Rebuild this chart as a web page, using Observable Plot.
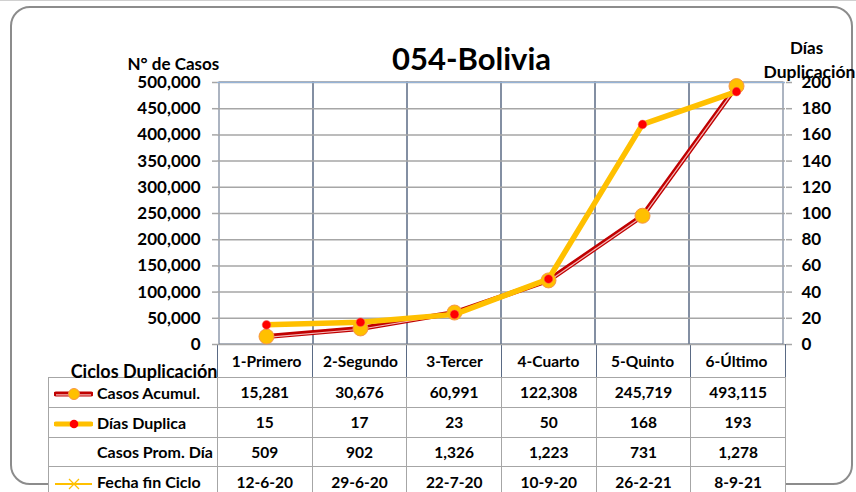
<!DOCTYPE html>
<html>
<head>
<meta charset="utf-8">
<script src="https://cdn.jsdelivr.net/npm/d3@7"></script>
<script src="https://cdn.jsdelivr.net/npm/@observablehq/plot@0.6"></script>
<style>
html,body{margin:0;padding:0;background:#fff;}
#wrap{position:relative;width:856px;height:492px;overflow:hidden;font-family:Lato,"Open Sans",sans-serif;font-weight:bold;color:#000;}
#topline{position:absolute;left:0;top:0;width:856px;height:1px;background:#d0d0d0;}
#frame{position:absolute;left:10px;top:6px;width:843px;height:479px;border:2.5px solid #8c8c8c;border-radius:20px;box-sizing:border-box;}
#tbl{position:absolute;left:48px;top:344px;border-collapse:collapse;table-layout:fixed;background:#fff;font-size:15.5px;font-weight:bold;}
#tbl td{border:1px solid #a6a6a6;padding:0;text-align:center;white-space:nowrap;overflow:hidden;}
#tbl tr.hd td{border-top:none;border-left:1px solid #5a6a84;border-right:1px solid #5a6a84;}
#tbl tr.hd td.blank{border-top:none;border-left:none;}
#tbl td.lab{text-align:left;padding-left:5px;font-size:16px;}
#tbl td.lab svg{vertical-align:middle;margin-right:4px;}
#tbl td.lab.nokey{padding-left:48px;}
#chart{position:absolute;left:0;top:0;}
</style>
</head>
<body>
<div id="wrap">
  <div id="topline"></div>
  <div id="frame"></div>
  <table id="tbl"></table>
  <div id="chart"></div>
</div>
<script>
// ---- data ----
const categories = ["1-Primero", "2-Segundo", "3-Tercer", "4-Cuarto", "5-Quinto", "6-Último"];
const casosAcumul = [15281, 30676, 60991, 122308, 245719, 493115];
const diasDuplica = [15, 17, 23, 50, 168, 193];
const casosPromDia = [509, 902, 1326, 1223, 731, 1278];
const fechaFinCiclo = ["12-6-20", "29-6-20", "22-7-20", "10-9-20", "26-2-21", "8-9-21"];
const casosTicks = [0, 50000, 100000, 150000, 200000, 250000, 300000, 350000, 400000, 450000, 500000];
const diasTicks = [0, 20, 40, 60, 80, 100, 120, 140, 160, 180, 200];
const chartTitle = ["054-Bolivia"];
const leftAxisTitle = ["N° de Casos"];
const rightAxisTitle1 = ["Días"];
const rightAxisTitle2 = ["Duplicación"];
const tableTitle = ["Ciclos Duplicación"];
const rowLabels = ["Casos Acumul.", "Días Duplica", "Casos Prom. Día", "Fecha fin Ciclo"];

const casosMax = 500000, diasMax = 200;
const K = casosMax / diasMax; // right axis mapped onto left scale

const rows = categories.map((c, i) => ({cat: c, casos: casosAcumul[i], dias: diasDuplica[i]}));
const fmt = d3.format(",");

const txt = {fontWeight: "bold", fill: "#000"};

const chart = Plot.plot({
  width: 856,
  height: 377,
  marginTop: 82,
  marginBottom: 33,
  marginLeft: 217,
  marginRight: 71,
  style: {background: "transparent", fontFamily: "Lato, 'Open Sans', sans-serif", fontSize: "17px", fontWeight: "bold", color: "#000", overflow: "visible"},
  x: {type: "band", domain: categories, padding: 0},
  y: {domain: [0, casosMax]},
  marks: [
    Plot.barY(categories, {x: d => d, y: () => casosMax, fill: "none", stroke: "#5a6a84", strokeWidth: 1}),
    Plot.gridY(casosTicks, {stroke: "#a6a6a6", strokeOpacity: 1, strokeWidth: 1.5}),
    Plot.ruleY([casosMax], {stroke: "#95b3d7", strokeWidth: 1.2}),
    Plot.axisY(casosTicks, {anchor: "left", tickSize: 5, tickPadding: 12, tickFormat: fmt, stroke: "#a6a6a6", strokeWidth: 1.5, fontSize: 17, label: null, ...txt}),
    Plot.axisY(diasTicks.map(v => v * K), {anchor: "right", tickSize: 6, tickPadding: 10, tickFormat: v => String(v / K), stroke: "#a6a6a6", strokeWidth: 1.5, fontSize: 17, label: null, ...txt}),
    Plot.axisX(categories, {anchor: "bottom", tickSize: 0, tickPadding: 11, fontSize: 15.5, label: null, ...txt}),
    // Casos Acumul. (left axis)
    Plot.line(rows, {x: "cat", y: "casos", stroke: "#c00000", strokeWidth: 5}),
    Plot.line(rows, {x: "cat", y: "casos", stroke: "#f4b6b6", strokeWidth: 1.2, dy: 0.8}),
    Plot.dot(rows, {x: "cat", y: "casos", r: 7.5, fill: "#ffc000", stroke: "#f79646", strokeWidth: 1}),
    // Días Duplica (right axis)
    Plot.line(rows, {x: "cat", y: d => d.dias * K, stroke: "#ffc000", strokeWidth: 5.5}),
    Plot.dot(rows, {x: "cat", y: d => d.dias * K, r: 4.3, fill: "#ff0000", stroke: "#f06060", strokeWidth: 0.5}),
    // titles
    Plot.text(chartTitle, {text: d => d, frameAnchor: "top-left", dx: 254, dy: -22, fontSize: 31, textAnchor: "middle", lineAnchor: "middle", ...txt}),
    Plot.text(leftAxisTitle, {text: d => d, frameAnchor: "top-left", dx: -90, dy: -17.5, fontSize: 17, textAnchor: "start", lineAnchor: "middle", ...txt}),
    Plot.text(rightAxisTitle1, {text: d => d, frameAnchor: "top-right", dx: 21, dy: -34, fontSize: 17, textAnchor: "middle", lineAnchor: "middle", ...txt}),
    Plot.text(rightAxisTitle2, {text: d => d, frameAnchor: "top-right", dx: -22, dy: -10, fontSize: 17.5, textAnchor: "start", lineAnchor: "middle", ...txt}),
    Plot.text(tableTitle, {text: d => d, frameAnchor: "bottom-left", dx: 0, dy: 28, fontSize: 18, textAnchor: "end", lineAnchor: "middle", ...txt})
  ]
});
document.getElementById("chart").appendChild(chart);

// ---- data table below the chart ----
const keys = [
  '<svg width="39" height="12"><line x1="2" y1="6" x2="37" y2="6" stroke="#c00000" stroke-width="5" stroke-linecap="round"/><line x1="2" y1="6.8" x2="37" y2="6.8" stroke="#f4b6b6" stroke-width="1.2"/><circle cx="20" cy="6" r="5.5" fill="#ffc000" stroke="#f79646"/></svg>',
  '<svg width="39" height="12"><line x1="2" y1="6" x2="37" y2="6" stroke="#ffc000" stroke-width="5" stroke-linecap="round"/><circle cx="20" cy="6" r="4.3" fill="#ff0000"/></svg>',
  null,
  '<svg width="39" height="12"><line x1="1" y1="6" x2="38" y2="6" stroke="#ffc000" stroke-width="2"/><line x1="15" y1="1" x2="25" y2="11" stroke="#ffc000" stroke-width="1.2"/><line x1="15" y1="11" x2="25" y2="1" stroke="#ffc000" stroke-width="1.2"/></svg>'
];
const tableRows = [
  casosAcumul.map(fmt),
  diasDuplica.map(String),
  casosPromDia.map(fmt),
  fechaFinCiclo
];
const rowH = [30, 30, 29.5, 30];
const colW = (785 - 217) / categories.length;
let html = '<colgroup><col style="width:169px">' + categories.map(() => `<col style="width:${colW}px">`).join("") + '</colgroup>';
html += '<tr class="hd" style="height:33px"><td class="blank"></td>' + categories.map(() => '<td></td>').join("") + '</tr>';
tableRows.forEach((vals, r) => {
  html += `<tr style="height:${rowH[r]}px"><td class="lab${keys[r] ? "" : " nokey"}">${keys[r] || ""}${rowLabels[r]}</td>` +
    vals.map(v => `<td>${v}</td>`).join("") + '</tr>';
});
document.getElementById("tbl").innerHTML = html;
</script>
</body>
</html>
